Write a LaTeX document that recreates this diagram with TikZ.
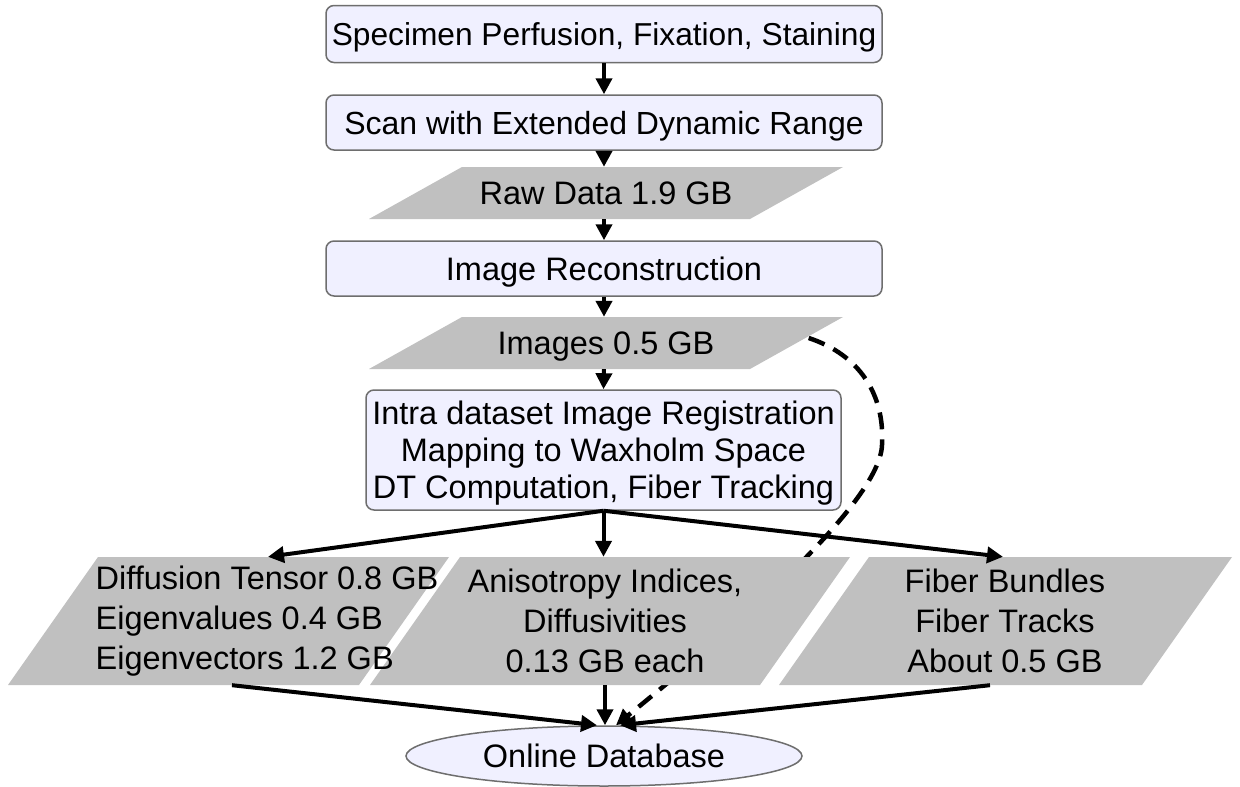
\documentclass[tikz,border=0pt]{standalone}
\usepackage{fontspec}
\setmainfont{Liberation Sans}
\usetikzlibrary{arrows.meta,shapes.geometric}
\pgfdeclarelayer{back}
\pgfdeclarelayer{mid}
\pgfsetlayers{back,mid,main}
\definecolor{boxfill}{RGB}{240,240,255}
\definecolor{boxline}{RGB}{110,110,110}
\definecolor{parafill}{RGB}{192,192,192}
\begin{document}
\begin{tikzpicture}[x=1pt,y=-1pt,
  every node/.style={font=\fontsize{32.5}{37}\selectfont},
  procbox/.style={draw=boxline, fill=boxfill, line width=1.5pt, rounded corners=8pt,
    minimum width=556pt, inner sep=0pt, text depth=0pt},
  datatext/.style={inner sep=0pt, align=center, text depth=0pt},
  bottext/.style={inner sep=0pt, minimum height=128pt, font=\fontsize{32.5}{40}\selectfont},
  arr/.style={line width=4pt, -{Triangle[length=16pt,width=16pt]}},
  darr/.style={arr, line width=4.5pt, dash pattern=on 17pt off 10pt}]
\useasboundingbox (0,0) rectangle (1240,787);

% process boxes and data labels
\node[procbox, minimum height=57pt, font=\fontsize{31.7}{37}\selectfont] (b1) at (604,34) {Specimen Perfusion, Fixation, Staining};
\node[procbox, minimum height=55pt, font=\fontsize{32}{37}\selectfont] (b2) at (604,122.5) {Scan with Extended Dynamic Range};
\node[datatext, minimum width=381pt, minimum height=52pt] (raw) at (606,193) {Raw Data 1.9 GB};
\node[procbox, minimum height=55pt] (b3) at (604,268.5) {Image Reconstruction};
\node[datatext, minimum width=381pt, minimum height=52pt] (img) at (606,343) {Images 0.5 GB};
\node[procbox, minimum width=475pt, minimum height=120pt, align=center] (b4) at (603.5,450)
  {Intra dataset Image Registration\\Mapping to Waxholm Space\\DT Computation, Fiber Tracking};
\node[bottext, align=left] (lp) at (267,621)
  {Diffusion Tensor 0.8 GB\\Eigenvalues 0.4 GB\\Eigenvectors 1.2 GB};
\node[bottext, align=center] (mp) at (605,621)
  {Anisotropy Indices,\\Diffusivities\\0.13 GB each};
\node[bottext, align=center] (rp) at (1005,621)
  {Fiber Bundles\\Fiber Tracks\\About 0.5 GB};
\node[ellipse, draw=boxline, fill=boxfill, line width=1.5pt, minimum width=396pt,
  minimum height=60pt, inner sep=0pt, text depth=0pt] (db) at (604,756) {Online Database};

% parallelogram fills
\begin{pgfonlayer}{mid}
\fill[parafill] (369,219) -- (462,167) -- (843,167) -- (750,219) -- cycle;
\fill[parafill] (369,369) -- (462,317) -- (843,317) -- (750,369) -- cycle;
\fill[parafill] (8,685) -- (98,557) -- (449,557) -- (359,685) -- cycle;
\fill[parafill] (370,685) -- (460,557) -- (850,557) -- (760,685) -- cycle;
\fill[parafill] (779,685) -- (869,557) -- (1232,557) -- (1142,685) -- cycle;
\end{pgfonlayer}

% dashed connector (under the data shapes)
\begin{pgfonlayer}{back}
\fill[white] (0,0) rectangle (1240,787);
\draw[darr] ([shift={(12,-5)}]img.east) .. controls (860,355) and (885,395) .. (882,445)
  .. controls (880,510) and (690,665) .. ([xshift=12pt]db.north);
\end{pgfonlayer}

% vertical chain
\draw[arr] (b1.south) -- (b2.north);
\draw[arr] (b2.south) -- (b2.south |- raw.north);
\draw[arr] (b2.south |- raw.south) -- (b3.north);
\draw[arr] (b3.south) -- (b3.south |- img.north);
\draw[arr] (b3.south |- img.south) -- (b4.north);

% fan out
\draw[arr] (b4.south) -- ([xshift=1pt]lp.north);
\draw[arr] (b4.south) -- (b4.south |- mp.north);
\draw[arr] (b4.south) -- ([xshift=-2pt]rp.north);

% into database
\draw[arr] ([xshift=-35pt]lp.south) -- ([xshift=-7pt]db.north);
\draw[arr] (mp.south) -- (mp.south |- db.north);
\draw[arr] ([xshift=-15pt]rp.south) -- ([xshift=16pt]db.north);
\end{tikzpicture}
\end{document}
